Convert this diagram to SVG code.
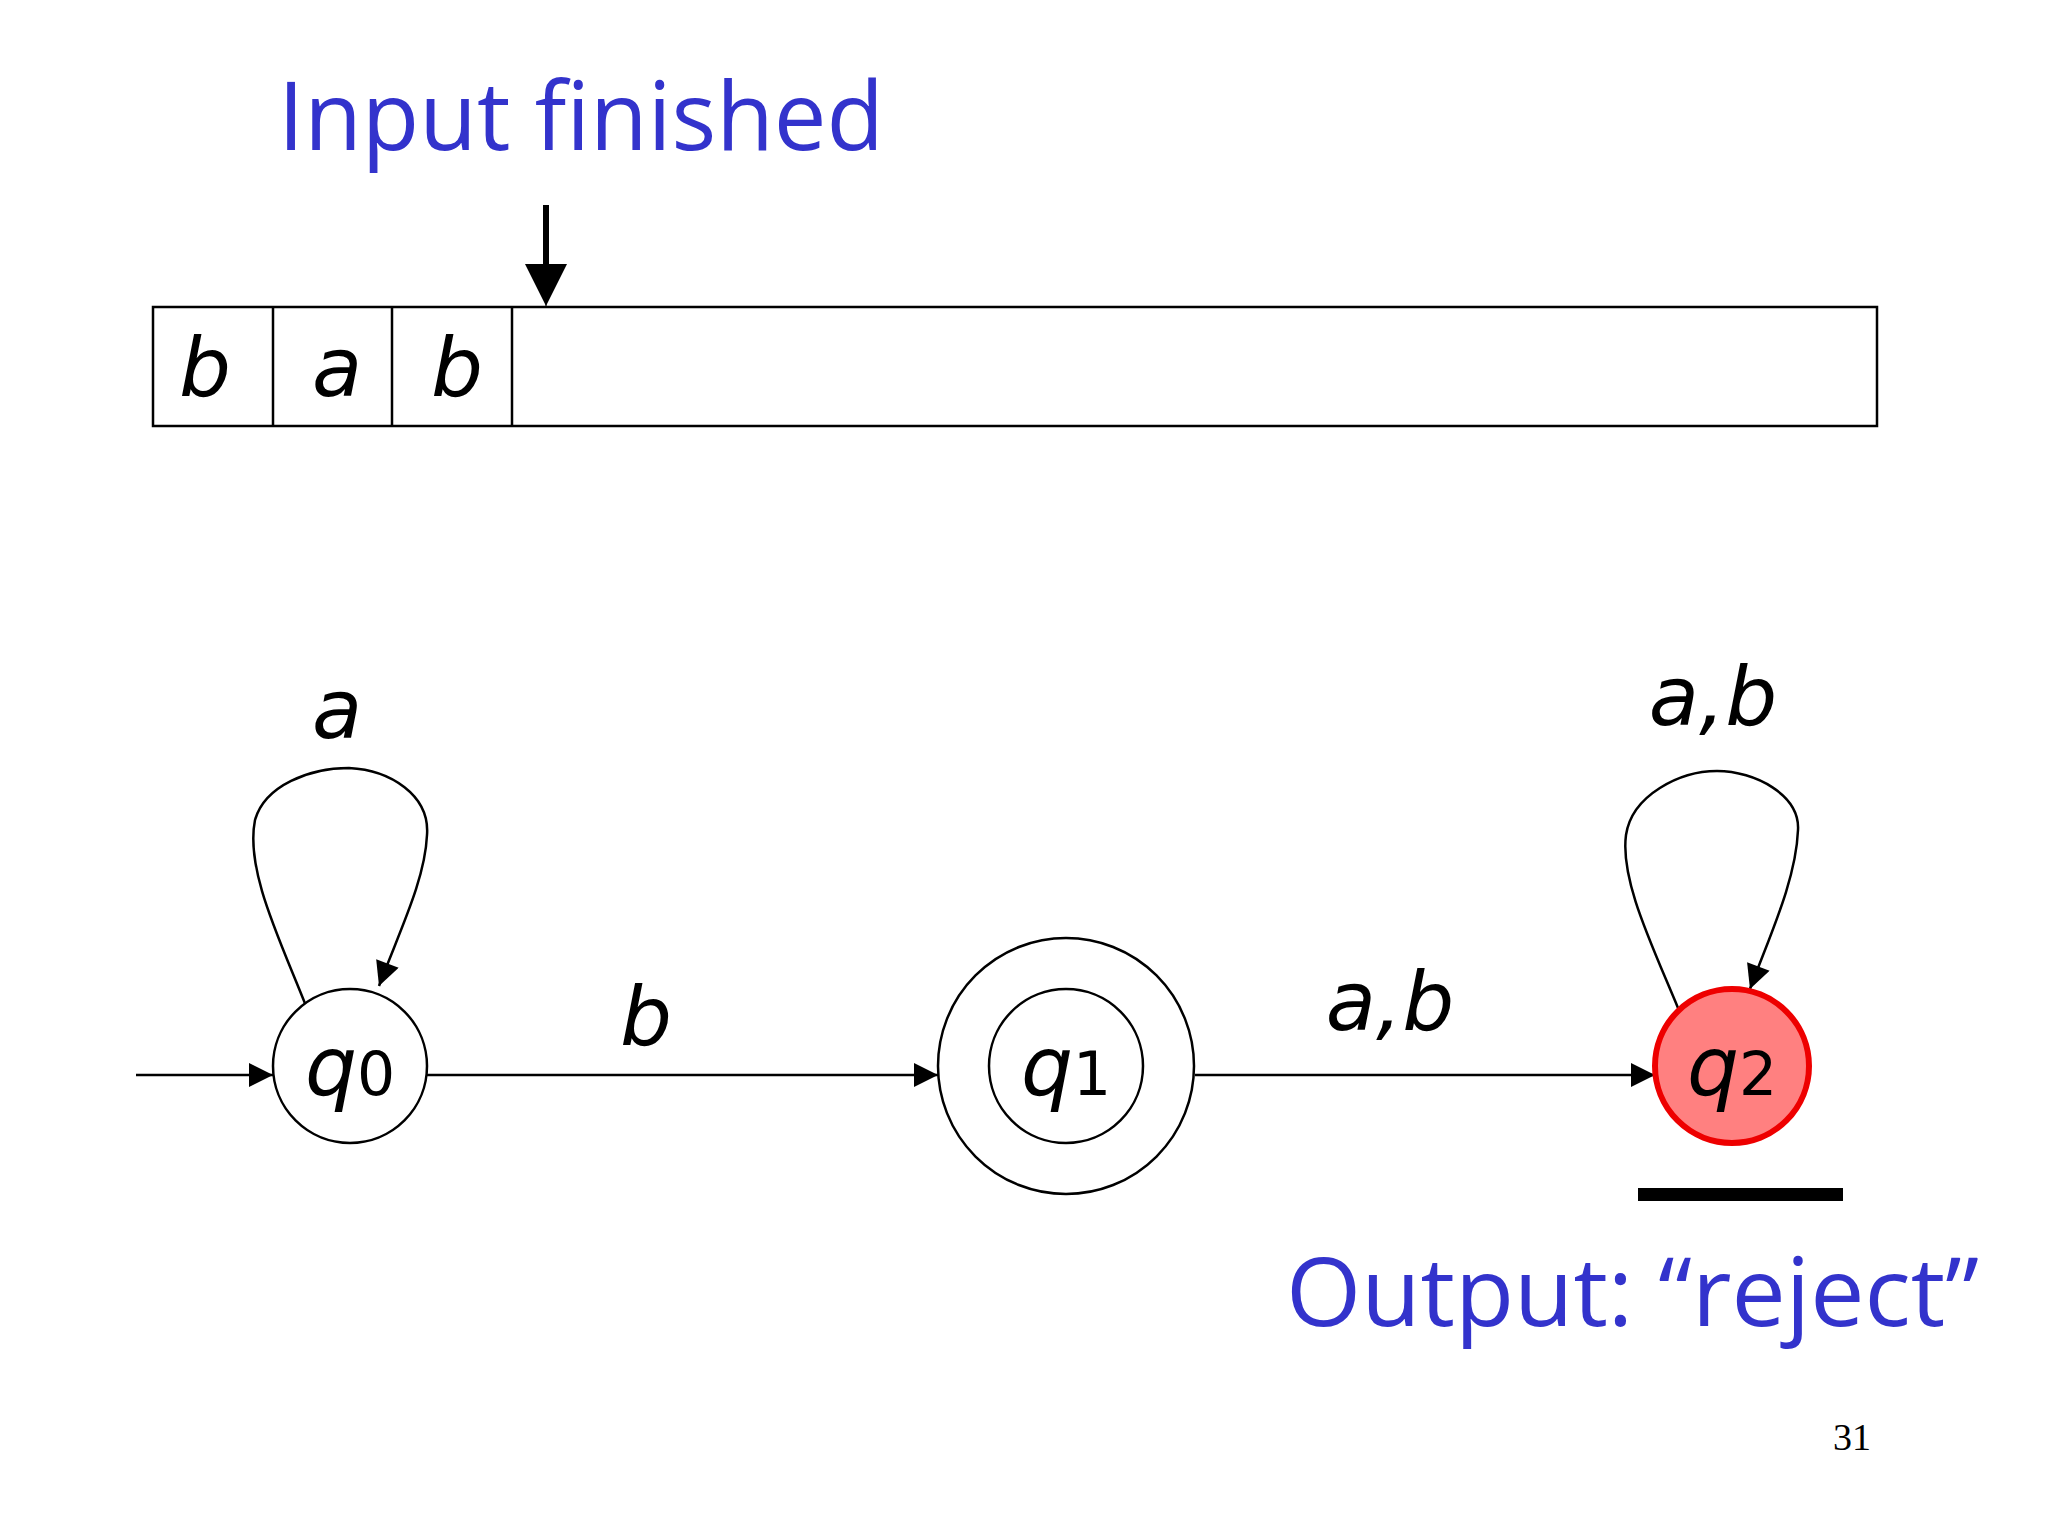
<svg xmlns="http://www.w3.org/2000/svg" width="2048" height="1536" viewBox="0 0 2048 1536">
<defs>
<marker id="ah" viewBox="0 0 10 10" refX="10" refY="5" markerWidth="26" markerHeight="24" markerUnits="userSpaceOnUse" orient="auto"><path d="M0,0 L10,5 L0,10 z" fill="#000"/></marker>
<marker id="ah2" viewBox="0 0 10 10" refX="10" refY="5" markerWidth="42" markerHeight="42" markerUnits="userSpaceOnUse" orient="auto"><path d="M0,0 L10,5 L0,10 z" fill="#000"/></marker>
<style>
.blue{font-family:"Open Sans","DejaVu Sans",sans-serif;fill:#3333cc;font-size:96px}
.sym{font-family:"DejaVu Sans",sans-serif;font-style:italic;font-size:82px;fill:#000}
.sub{font-size:60px;font-style:normal}
.st{fill:#fff;stroke:#000;stroke-width:2.5}
.e{fill:none;stroke:#000;stroke-width:2.5}
</style>
</defs>
<rect width="2048" height="1536" fill="#fff"/>
<text class="blue" x="278" y="150" textLength="606" lengthAdjust="spacingAndGlyphs">Input finished</text>
<line x1="546" y1="205" x2="546" y2="270" stroke="#000" stroke-width="6"/>
<line x1="546" y1="262" x2="546" y2="306" stroke="#000" stroke-width="1" marker-end="url(#ah2)"/>
<g id="tape">
<rect x="153" y="307" width="1724" height="119" fill="#fff" stroke="#000" stroke-width="2.5"/>
<line x1="273" y1="307" x2="273" y2="426" stroke="#000" stroke-width="2.5"/>
<line x1="392" y1="307" x2="392" y2="426" stroke="#000" stroke-width="2.5"/>
<line x1="512" y1="307" x2="512" y2="426" stroke="#000" stroke-width="2.5"/>
<text class="sym" x="205" y="396" text-anchor="middle">b</text>
<text class="sym" x="337" y="396" text-anchor="middle">a</text>
<text class="sym" x="457" y="396" text-anchor="middle">b</text>
</g>
<g id="connectors">
<line x1="136" y1="1075" x2="273" y2="1075" class="e" marker-end="url(#ah)"/>
<line x1="427" y1="1075" x2="938" y2="1075" class="e" marker-end="url(#ah)"/>
<line x1="1195" y1="1075" x2="1655" y2="1075" class="e" marker-end="url(#ah)"/>
<path class="e" d="M306,1006 C280,940 245,870 255,820 C265,785 310,768 349,768 C390,770 430,795 427,835 C425,880 400,930 379,986" marker-end="url(#ah)"/>
<path class="e" d="M1678,1008 C1652,945 1620,880 1626,835 C1632,795 1680,771 1717,771 C1755,771 1800,795 1798,830 C1796,880 1770,935 1750,989" marker-end="url(#ah)"/>
<text class="sym" x="337" y="738" text-anchor="middle">a</text>
<text class="sym" x="646" y="1045" text-anchor="middle">b</text>
<text class="sym" x="1390" y="1030" text-anchor="middle">a,b</text>
<text class="sym" x="1713" y="725" text-anchor="middle">a,b</text>
</g>
<g id="q0"><circle class="st" cx="350" cy="1066" r="77"/><text class="sym" x="350" y="1095" text-anchor="middle">q<tspan class="sub">0</tspan></text></g>
<g id="q1"><circle class="st" cx="1066" cy="1066" r="128"/><circle class="st" cx="1066" cy="1066" r="77"/><text class="sym" x="1066" y="1095" text-anchor="middle">q<tspan class="sub">1</tspan></text></g>
<g id="q2"><circle cx="1732" cy="1066" r="77" fill="#ff8080" stroke="#ee0000" stroke-width="6"/><text class="sym" x="1732" y="1095" text-anchor="middle">q<tspan class="sub">2</tspan></text></g>
<rect x="1638" y="1188" width="205" height="13" fill="#000"/>
<text class="blue" x="1286" y="1326" textLength="693" lengthAdjust="spacingAndGlyphs">Output: “reject”</text>
<text x="1852" y="1450" text-anchor="middle" font-family="Liberation Serif,serif" font-size="38" fill="#000">31</text>
</svg>
